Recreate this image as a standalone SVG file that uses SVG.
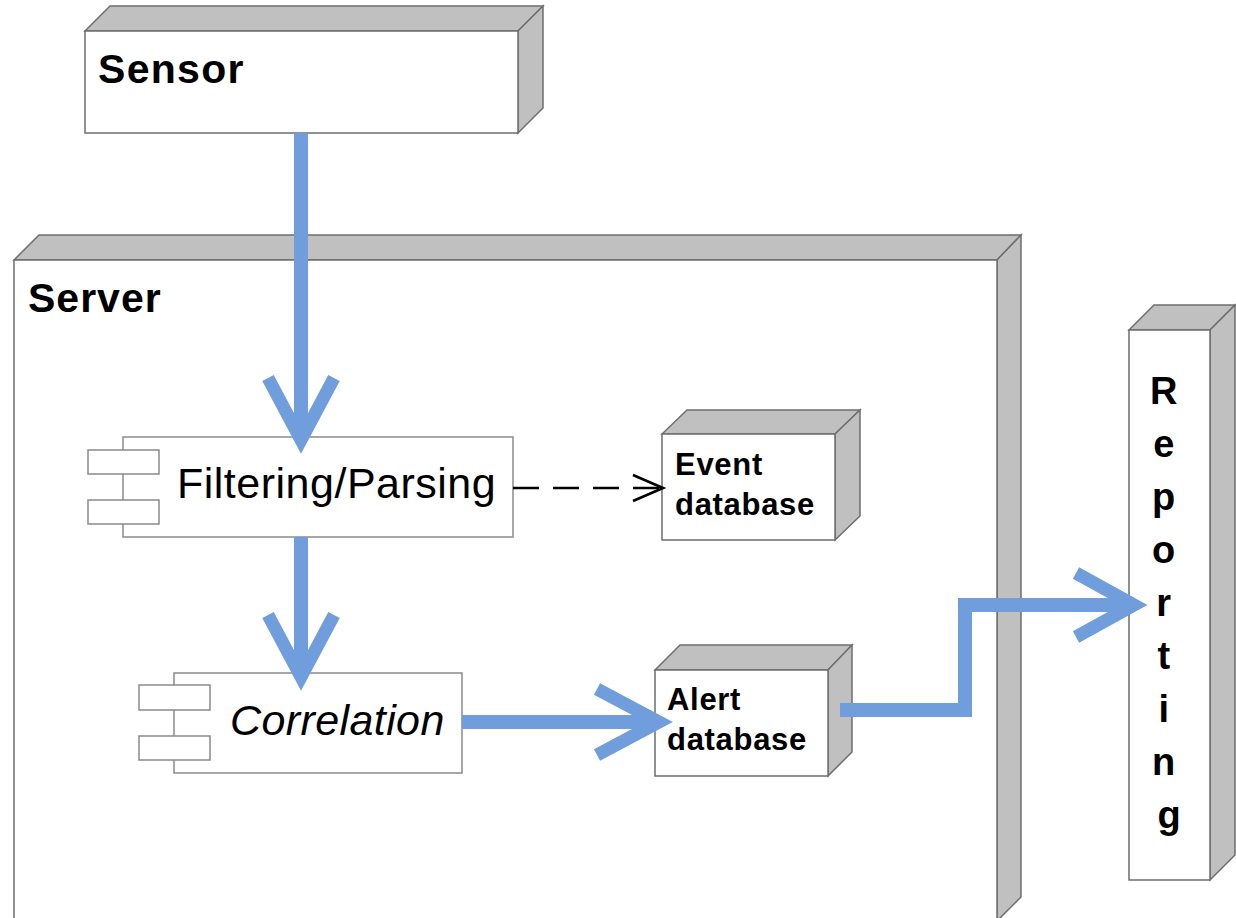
<svg xmlns="http://www.w3.org/2000/svg" width="1236" height="918" viewBox="0 0 1236 918">
<style>
.face{fill:#c0c0c0;stroke:#6e6e6e;stroke-width:1.5;stroke-linejoin:miter}
.front{fill:#ffffff;stroke:#6e6e6e;stroke-width:1.5}
.comp{fill:#ffffff;stroke:#8a8a8a;stroke-width:1.5}
.bold{font-family:"Liberation Sans",Arial,sans-serif;font-weight:bold;fill:#000}
.db{font-size:31px;letter-spacing:0.7px}
.reg{font-family:"Liberation Sans",Arial,sans-serif;fill:#000;font-size:43px}
.blue{fill:none;stroke:#709ddb;stroke-width:14;stroke-linecap:butt;stroke-linejoin:miter}
.bluehead{fill:none;stroke:#709ddb;stroke-width:13;stroke-linecap:butt;stroke-linejoin:miter;stroke-miterlimit:10}
</style>
<rect width="1236" height="918" fill="#ffffff"/>

<g id="server">
<polygon class="face" points="14,260 39,235 1021,235 997,260"/>
<polygon class="face" points="997,260 1021,235 1021,897 997,921"/>
<rect class="front" x="14" y="260" width="983" height="670"/>
<text class="bold" x="28" y="312" font-size="41" letter-spacing="1">Server</text>
</g>

<g id="sensor">
<polygon class="face" points="85,31 110,6 543,6 518,31"/>
<polygon class="face" points="518,31 543,6 543,108 518,133"/>
<rect class="front" x="85" y="31" width="433" height="102"/>
<text class="bold" x="98" y="83" font-size="41" letter-spacing="1.3">Sensor</text>
</g>

<g id="filtering">
<rect class="comp" x="123" y="437" width="390" height="100"/>
<rect class="comp" x="88" y="450" width="71" height="24"/>
<rect class="comp" x="88" y="500" width="71" height="24"/>
<text class="reg" x="177" y="498" letter-spacing="0.5">Filtering/Parsing</text>
</g>

<g id="correlation">
<rect class="comp" x="174" y="673" width="288" height="100"/>
<rect class="comp" x="139" y="685" width="71" height="25"/>
<rect class="comp" x="139" y="736" width="71" height="24"/>
<text class="reg" x="230" y="735" font-style="italic" letter-spacing="0.4">Correlation</text>
</g>

<g id="event-db">
<polygon class="face" points="662,434 687,410 860,410 835,434"/>
<polygon class="face" points="835,434 860,410 860,516 835,540"/>
<rect class="front" x="662" y="434" width="173" height="106"/>
<text class="bold db" x="675" y="475">Event</text>
<text class="bold db" x="675" y="515">database</text>
</g>

<g id="alert-db">
<polygon class="face" points="655,670 680,645 852,645 828,670"/>
<polygon class="face" points="828,670 852,645 852,752 828,776"/>
<rect class="front" x="655" y="670" width="173" height="106"/>
<text class="bold db" x="667" y="710">Alert</text>
<text class="bold db" x="667" y="750">database</text>
</g>

<g id="reporting">
<polygon class="face" points="1129,330 1154,305 1235,305 1210,330"/>
<polygon class="face" points="1210,330 1235,305 1235,855 1210,880"/>
<rect class="front" x="1129" y="330" width="81" height="550"/>
<text class="bold" font-size="38" text-anchor="middle">
<tspan x="1169" y="404">R</tspan>
<tspan x="1169" y="457">e</tspan>
<tspan x="1169" y="510">p</tspan>
<tspan x="1169" y="563">o</tspan>
<tspan x="1169" y="616">r</tspan>
<tspan x="1169" y="669">t</tspan>
<tspan x="1169" y="722">i</tspan>
<tspan x="1169" y="775">n</tspan>
<tspan x="1169" y="828">g</tspan>
</text>
</g>

<g id="connectors">
<line class="blue" x1="301" y1="133" x2="301" y2="438"/>
<polyline class="bluehead" points="268,378 301,440 334,378"/>
<line class="blue" x1="301" y1="537" x2="301" y2="675"/>
<polyline class="bluehead" points="268,615 301,677 334,615"/>
<line class="blue" x1="462" y1="722" x2="657" y2="722"/>
<polyline class="bluehead" points="597,689 659,722 597,755"/>
<polyline class="blue" points="840,710 965,710 965,605 1132,605"/>
<polyline class="bluehead" points="1076,573 1134,605 1076,637"/>
<line x1="513" y1="488" x2="661" y2="488" stroke="#000" stroke-width="2.7" stroke-dasharray="26,14"/>
<polyline points="633,475 663,488 633,501" fill="none" stroke="#000" stroke-width="2.7"/>
</g>
</svg>
